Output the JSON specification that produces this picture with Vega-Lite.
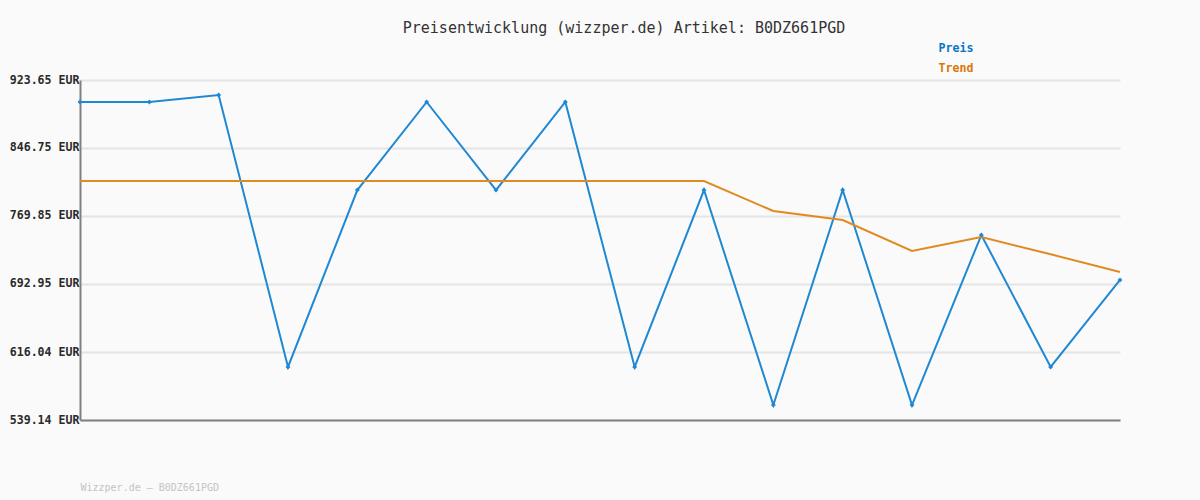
{
  "$schema": "https://vega.github.io/schema/vega-lite/v6.json",
  "autosize": "none",
  "width": 1040,
  "height": 340,
  "padding": {"left": 80, "top": 80, "right": 80, "bottom": 80},
  "background": "#fafafa",
  "title": {
    "text": "Preisentwicklung (wizzper.de) Artikel: B0DZ661PGD",
    "font": "DejaVu Sans Mono",
    "fontSize": 15,
    "fontWeight": "normal",
    "color": "#333333",
    "anchor": "middle",
    "dx": 24,
    "offset": 7
  },
  "config": {
    "view": {"stroke": null},
    "axis": {"labelFont": "DejaVu Sans Mono"}
  },
  "data": {
    "values": [
      {"i": 0, "series": "Preis", "v": 898.77},
      {"i": 1, "series": "Preis", "v": 898.77},
      {"i": 2, "series": "Preis", "v": 906.7},
      {"i": 3, "series": "Preis", "v": 599.1},
      {"i": 4, "series": "Preis", "v": 799.2},
      {"i": 5, "series": "Preis", "v": 898.77},
      {"i": 6, "series": "Preis", "v": 799.2},
      {"i": 7, "series": "Preis", "v": 898.77},
      {"i": 8, "series": "Preis", "v": 599.1},
      {"i": 9, "series": "Preis", "v": 799.2},
      {"i": 10, "series": "Preis", "v": 556.1},
      {"i": 11, "series": "Preis", "v": 799.2},
      {"i": 12, "series": "Preis", "v": 556.1},
      {"i": 13, "series": "Preis", "v": 748.36},
      {"i": 14, "series": "Preis", "v": 599.1},
      {"i": 15, "series": "Preis", "v": 697.5},
      {"i": 0, "series": "Trend", "v": 809.4},
      {"i": 1, "series": "Trend", "v": 809.4},
      {"i": 2, "series": "Trend", "v": 809.4},
      {"i": 3, "series": "Trend", "v": 809.4},
      {"i": 4, "series": "Trend", "v": 809.4},
      {"i": 5, "series": "Trend", "v": 809.4},
      {"i": 6, "series": "Trend", "v": 809.4},
      {"i": 7, "series": "Trend", "v": 809.4},
      {"i": 8, "series": "Trend", "v": 809.4},
      {"i": 9, "series": "Trend", "v": 809.4},
      {"i": 10, "series": "Trend", "v": 775.5},
      {"i": 11, "series": "Trend", "v": 765.3},
      {"i": 12, "series": "Trend", "v": 730.3},
      {"i": 13, "series": "Trend", "v": 746.0},
      {"i": 14, "series": "Trend", "v": 726.5},
      {"i": 15, "series": "Trend", "v": 706.5}
    ]
  },
  "encoding": {
    "x": {
      "field": "i",
      "type": "quantitative",
      "scale": {"domain": [0, 15], "nice": false, "zero": false},
      "axis": {
        "title": "Wizzper.de – B0DZ661PGD",
        "titleAnchor": "start",
        "titleFont": "DejaVu Sans Mono",
        "titleFontSize": 10,
        "titleFontWeight": "normal",
        "titleColor": "#c4c4c4",
        "titlePadding": 62,
        "labels": false,
        "ticks": false,
        "grid": false,
        "domainColor": "#808080",
        "domainWidth": 2
      }
    },
    "y": {
      "field": "v",
      "type": "quantitative",
      "scale": {"domain": [539.14, 923.65], "nice": false, "zero": false},
      "axis": {
        "title": null,
        "values": [539.14, 616.04, 692.95, 769.85, 846.75, 923.65],
        "labelExpr": "format(datum.value, '.2f') + ' EUR'",
        "labelFontSize": 11.6,
        "labelFontWeight": "bold",
        "labelColor": "#2a2a2a",
        "labelPadding": 1,
        "ticks": false,
        "grid": true,
        "gridColor": "#e4e4e4",
        "gridWidth": 2,
        "domainColor": "#808080",
        "domainWidth": 2
      }
    },
    "color": {
      "field": "series",
      "type": "nominal",
      "scale": {"domain": ["Preis", "Trend"], "range": ["#1f88d2", "#e08a22"]},
      "legend": {
        "title": null,
        "orient": "none",
        "legendX": 847,
        "legendY": -37,
        "symbolSize": 0,
        "symbolStrokeWidth": 0,
        "labelOffset": 0,
        "labelFont": "DejaVu Sans Mono",
        "labelFontSize": 11.6,
        "labelFontWeight": "bold",
        "rowPadding": 7,
        "encode": {
          "labels": {
            "update": {
              "fill": {"signal": "datum.value === 'Preis' ? '#0a77c5' : '#d9780a'"}
            }
          }
        }
      }
    }
  },
  "layer": [
    {
      "mark": {"type": "line", "strokeWidth": 2}
    },
    {
      "transform": [{"filter": "datum.series === 'Preis'"}],
      "mark": {"type": "point", "shape": "diamond", "filled": true, "size": 24, "color": "#0a6fb8", "opacity": 1}
    }
  ]
}
